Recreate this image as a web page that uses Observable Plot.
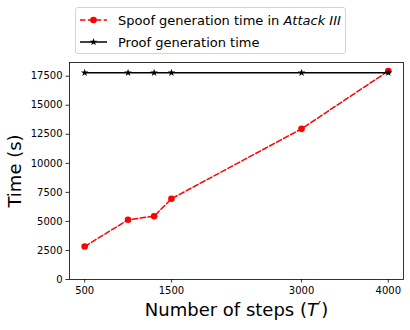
<!DOCTYPE html>
<html><head><meta charset="utf-8">
<script src="https://cdn.jsdelivr.net/npm/d3@7"></script>
<script src="https://cdn.jsdelivr.net/npm/@observablehq/plot@0.6"></script>
<style>
body{margin:0;background:#fff;font-family:"DejaVu Sans",sans-serif;}
#wrap{position:relative;width:410px;height:330px;overflow:hidden;}
#legend{position:absolute;left:75px;top:7px;width:271px;height:47px;box-sizing:border-box;border:1px solid #d4d4d4;border-radius:3px;background:rgba(255,255,255,0.8);font-size:13px;color:#000;}
.row{position:absolute;left:0;height:22px;display:flex;align-items:center;white-space:nowrap;}
.row svg{margin-left:3px;}
.row span{margin-left:9px;}
</style></head>
<body><div id="wrap"><div id="chart"></div><div id="legend"></div></div>
<script>
const steps = [500, 1000, 1300, 1500, 3000, 4000];
const spoofTime = [2840, 5140, 5450, 6950, 12970, 17950];
const proofTime = [17800, 17800, 17800, 17800, 17800, 17800];
const xTicks = [500, 1500, 3000, 4000];
const yTicks = [0, 2500, 5000, 7500, 10000, 12500, 15000, 17500];
const seriesNames = ["Spoof generation time in ", "Proof generation time"];
const xLabel = "Number of steps (T′)";
const yLabel = "Time (s)";

const spoof = steps.map((s, i) => ({steps: s, time: spoofTime[i]}));
const proof = steps.map((s, i) => ({steps: s, time: proofTime[i]}));

const chart = Plot.plot({
  width: 410, height: 330,
  marginLeft: 69, marginRight: 7, marginTop: 62, marginBottom: 51,
  style: {fontFamily: "DejaVu Sans", fontSize: "10px", background: "#fff", color: "#000"},
  x: {domain: [325, 4175]},
  y: {domain: [0, 18680]},
  marks: [
    Plot.axisX({ticks: xTicks, tickSize: 3.5, tickPadding: 3.5, tickFormat: d => String(d), label: null, strokeWidth: 0.8}),
    Plot.axisY({ticks: yTicks, tickSize: 3.5, tickPadding: 3.5, tickFormat: d => String(d), label: null, strokeWidth: 0.8}),
    Plot.line(spoof, {x: "steps", y: "time", stroke: "red", strokeWidth: 1.5, strokeDasharray: "5.5,2.4"}),
    Plot.dot(spoof, {x: "steps", y: "time", fill: "red", r: 3.3, symbol: "circle"}),
    Plot.line(proof, {x: "steps", y: "time", stroke: "black", strokeWidth: 1.5}),
    Plot.dot(proof, {x: "steps", y: "time", fill: "black", r: 2.4, symbol: "star"}),
    Plot.frame({stroke: "black", strokeWidth: 0.8}),
    Plot.text([xLabel], {frameAnchor: "bottom", dy: 36, lineAnchor: "bottom", textAnchor: "middle", fontSize: 18, fill: "black"}),
    Plot.text([yLabel], {frameAnchor: "left", dx: -49, rotate: -90, lineAnchor: "bottom", textAnchor: "middle", fontSize: 18, fill: "black"})
  ]
});
document.getElementById("chart").appendChild(chart);

// italic T in the x label
d3.select(chart).selectAll("text").filter(function() { return this.textContent === xLabel; })
  .each(function() {
    const t = d3.select(this);
    t.text(null);
    t.append("tspan").text("Number of steps (");
    t.append("tspan").attr("font-style", "italic").text("T");
    t.append("tspan").attr("font-size", 14).attr("dy", -5).text("′");
    t.append("tspan").attr("dy", 5).text(")");
  });

// legend
const legend = d3.select("#legend");
const rows = [
  {top: 1, color: "red", dash: "5.5,2.4", marker: "circle"},
  {top: 23, color: "black", dash: null, marker: "star"}
];
rows.forEach((r, i) => {
  const row = legend.append("div").attr("class", "row").style("top", r.top + "px");
  const svg = row.append("svg").attr("width", 30).attr("height", 22);
  svg.append("line").attr("x1", 1).attr("x2", 28).attr("y1", 11).attr("y2", 11)
    .attr("stroke", r.color).attr("stroke-width", 1.5).attr("stroke-dasharray", r.dash);
  if (r.marker === "circle") {
    svg.append("circle").attr("cx", 14.5).attr("cy", 11).attr("r", 3.3).attr("fill", r.color);
  } else {
    svg.append("path").attr("transform", "translate(14.5,11)")
      .attr("d", d3.symbol(d3.symbolStar, Math.PI * 2.4 * 2.4)()).attr("fill", r.color);
  }
  const span = row.append("span").text(seriesNames[i]);
  if (i === 0) span.append("i").text("Attack III");
});
</script></body></html>
